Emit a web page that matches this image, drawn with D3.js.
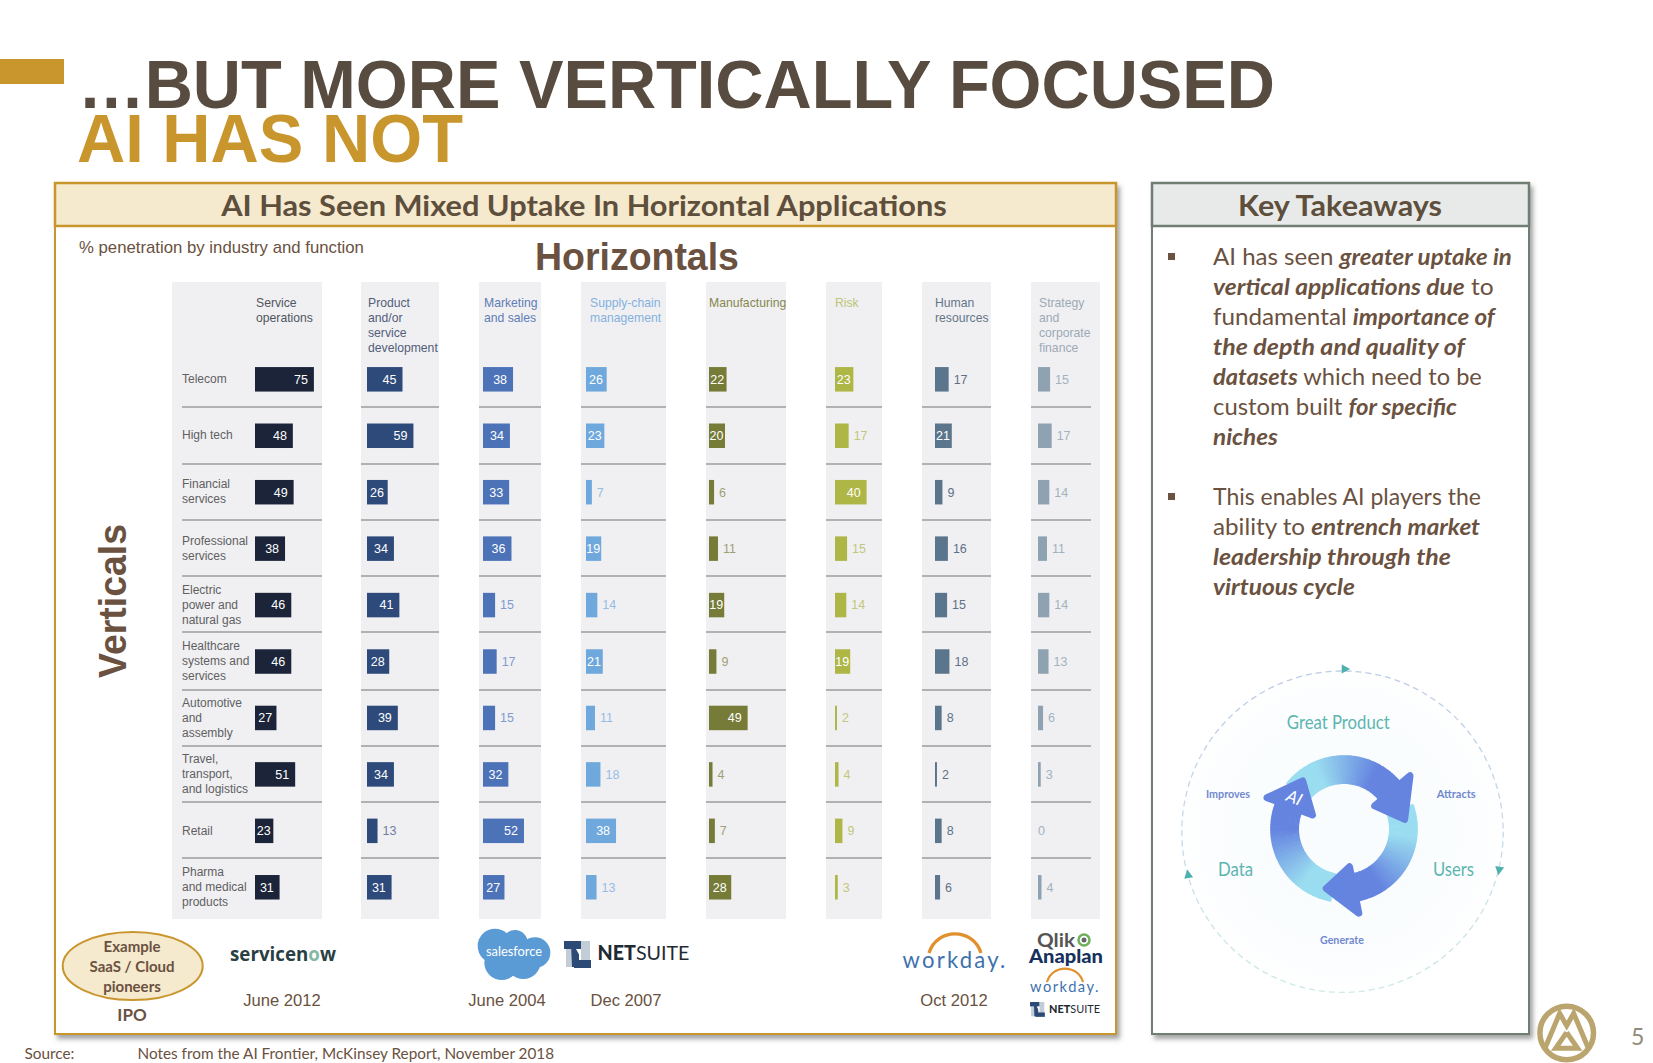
<!DOCTYPE html>
<html><head><meta charset="utf-8">
<style>html,body{margin:0;padding:0;background:#fff;overflow:hidden}svg{display:block}</style>
<script src="https://cdn.jsdelivr.net/npm/d3@7/dist/d3.min.js"></script>
</head><body><svg id="c" width="1653" height="1063" xmlns="http://www.w3.org/2000/svg"></svg>
<script>
// ---- data ----
const industries = [
  ["Telecom"],["High tech"],["Financial","services"],["Professional","services"],
  ["Electric","power and","natural gas"],["Healthcare","systems and","services"],
  ["Automotive","and","assembly"],["Travel,","transport,","and logistics"],["Retail"],
  ["Pharma","and medical","products"]];
const functionNames = [
  ["Service","operations"],["Product","and/or","service","development"],["Marketing","and sales"],
  ["Supply-chain","management"],["Manufacturing"],["Risk"],["Human","resources"],
  ["Strategy","and","corporate","finance"]];
const serviceOperations = [75,48,49,38,46,46,27,51,23,31];
const productDevelopment = [45,59,26,34,41,28,39,34,13,31];
const marketingSales = [38,34,33,36,15,17,15,32,52,27];
const supplyChain = [26,23,7,19,14,21,11,18,38,13];
const manufacturing = [22,20,6,11,19,9,49,4,7,28];
const risk = [23,17,40,15,14,19,2,4,9,3];
const humanResources = [17,21,9,16,15,18,8,2,8,6];
const strategyFinance = [15,17,14,11,14,13,6,3,0,4];
const seriesValues = [serviceOperations,productDevelopment,marketingSales,supplyChain,manufacturing,risk,humanResources,strategyFinance];
const barColors = ["#1B2438","#2D4A7A","#4C72B8","#6FA8DC","#767B38","#AEB645","#5B758C","#8FA2B2"];
const headColors = ["#50565E","#525D7A","#5F7DB6","#84B0E0","#85884F","#BEC474","#647688","#9DAAB6"];
const outColors = ["#555","#6F7F9C","#7F9BD0","#96BDE6","#A09F74","#C2C77C","#5E7186","#A3B2BE"];
const panelLeft = [172,361,479,581,706,826,922,1031];
const panelRight = [322,439,541,666,786,882,991,1100];
const ruleLeft = [182,361,479,581,706,826,922,1031];
const ruleRight = [322,439,541,666,786,882,991,1091];
const barStart = [255,367,483,586,709,835,935,1038];
const headX = [256,368,484,590,709,835,935,1039];
const takeaways = [
 {b:265,w:299,r:[["AI has seen ",0],["greater uptake in",1]]},
 {b:295,w:281,r:[["vertical applications due",1],[" to",0]]},
 {b:325,w:282,r:[["fundamental ",0],["importance of",1]]},
 {b:355,w:252,r:[["the depth and quality of",1]]},
 {b:385,w:269,r:[["datasets",1],[" which need to be",0]]},
 {b:415,w:244,r:[["custom built ",0],["for specific",1]]},
 {b:445,w:65,r:[["niches",1]]},
 {b:505,w:268,r:[["This enables AI players the",0]]},
 {b:535,w:267,r:[["ability to ",0],["entrench market",1]]},
 {b:565,w:238,r:[["leadership through the",1]]},
 {b:595,w:142,r:[["virtuous cycle",1]]}];
const ipoDates = [["June 2012",282],["June 2004",507],["Dec 2007",626],["Oct 2012",954]];

// ---- helpers ----
const GOLD="#C8962D", BROWN="#6A5140", SANS="'Liberation Sans',Arial,sans-serif", LATO="Lato,'Open Sans',sans-serif";
const svg=d3.select("#c");
const defs=svg.append("defs");
const f=defs.append("filter").attr("id","sh").attr("x","-5%").attr("y","-5%").attr("width","112%").attr("height","112%");
f.append("feDropShadow").attr("dx",3).attr("dy",4).attr("stdDeviation",2.5).attr("flood-color","#555").attr("flood-opacity",.55);

function T(x,y,str,o={}){
  const t=svg.append("text").attr("font-family",o.font||SANS).attr("font-size",o.size||12)
    .attr("fill",o.fill||BROWN).attr("font-weight",o.weight||400).attr("font-style",o.italic?"italic":"normal")
    .attr("text-anchor",o.anchor||"start").text(str);
  if(o.spacing) t.attr("letter-spacing",o.spacing);
  let k=1;
  if(o.w){k=o.w/t.node().getComputedTextLength();}
  t.attr("transform",`translate(${x},${y})${o.rot?` rotate(${o.rot})`:""} scale(${k},1)`);
  return t;
}

// ---- slide frame ----
svg.append("rect").attr("x",0).attr("y",59).attr("width",64).attr("height",25).attr("fill",GOLD);
T(78,108,"…BUT MORE VERTICALLY FOCUSED",{size:69,weight:700,fill:"#574C3F",w:1197});
T(77,162,"AI HAS NOT",{size:69,weight:700,fill:GOLD,w:386});

// left box
svg.append("rect").attr("x",55).attr("y",183).attr("width",1061).attr("height",851).attr("fill","#fff").attr("stroke",GOLD).attr("stroke-width",2).attr("filter","url(#sh)");
svg.append("rect").attr("x",55).attr("y",183).attr("width",1061).attr("height",43).attr("fill","#F5E9CE").attr("stroke",GOLD).attr("stroke-width",2.5);
T(584,216,"AI Has Seen Mixed Uptake In Horizontal Applications",{font:LATO,size:29,weight:700,fill:"#5E4E3C",anchor:"middle",w:726});
// right box
svg.append("rect").attr("x",1152).attr("y",183).attr("width",377).attr("height",851).attr("fill","#fff").attr("stroke","#6F7D73").attr("stroke-width",2).attr("filter","url(#sh)");
svg.append("rect").attr("x",1152).attr("y",183).attr("width",377).attr("height",43).attr("fill","#E8EAE9").attr("stroke","#6F7D73").attr("stroke-width",2.5);
T(1340,216,"Key Takeaways",{font:LATO,size:29,weight:700,fill:"#5E4E3C",anchor:"middle",w:204});

T(79,253,"% penetration by industry and function",{size:16,w:285});
T(535,269.5,"Horizontals",{size:38,weight:700,w:204});
T(126,601,"Verticals",{size:38,weight:700,anchor:"middle",rot:-90,w:154});

// ---- panels and bars ----
const yBand=d3.scaleBand().domain(d3.range(industries.length)).range([351.1,915.5]).paddingInner(.566).paddingOuter(.283);
const xLen=d3.scaleLinear().domain([0,75]).range([0,58.5]);
const ruleYs=[407,464,520,576,632,690,746,802,858];

seriesValues.forEach((vals,c)=>{
  svg.append("rect").attr("x",panelLeft[c]).attr("y",282).attr("width",panelRight[c]-panelLeft[c]).attr("height",637).attr("fill","#F0F0F2");
  svg.append("g").selectAll("line").data(ruleYs).join("line")
    .attr("x1",ruleLeft[c]).attr("x2",ruleRight[c]).attr("y1",d=>d).attr("y2",d=>d)
    .attr("stroke","#9C9C9E").attr("stroke-width",1.3);
  functionNames[c].forEach((ln,i)=>T(headX[c],306.7+i*15.2,ln,{size:12.2,fill:headColors[c]}));
  svg.append("g").selectAll("rect").data(vals).join("rect")
    .attr("x",barStart[c]).attr("y",(d,i)=>yBand(i)).attr("width",d=>d>0?xLen(d)+.4:0).attr("height",yBand.bandwidth())
    .attr("fill",barColors[c]);
  vals.forEach((v,i)=>{
    const w=xLen(v)+.4, inside=v>=19, cy=yBand(i)+yBand.bandwidth()/2+4.3;
    if(inside){
      T(barStart[c]+w-Math.min(6,(w-13)/2),cy,String(v),{size:12.5,fill:"#fff",anchor:"end"});
    } else {
      T(barStart[c]+w+(v===0?-0.5:5),cy,String(v),{size:12.5,fill:outColors[c]});
    }
  });
});
industries.forEach((lines,i)=>{
  const c=yBand(i)+yBand.bandwidth()/2;
  lines.forEach((ln,j)=>T(182,c+3.7+(j-(lines.length-1)/2)*15,ln,{size:12,fill:"#606062"}));
});

// ---- ipo row ----
svg.append("ellipse").attr("cx",132.7).attr("cy",966).attr("rx",70).attr("ry",34).attr("fill","#F5E9CE").attr("stroke",GOLD).attr("stroke-width",2);
[["Example",952],["SaaS / Cloud",972],["pioneers",992]].forEach(d=>T(132,d[1],d[0],{font:LATO,size:15,weight:700,anchor:"middle"}));
T(132,1021,"IPO",{font:LATO,size:17,weight:700,anchor:"middle"});
ipoDates.forEach(d=>T(d[1],1006,d[0],{size:16.6,anchor:"middle"}));

// servicenow
const sn=T(230,961,"",{font:"'Open Sans',sans-serif",size:19,weight:700,fill:"#2A3F44"});
sn.append("tspan").text("servicen");sn.append("tspan").attr("fill","#86B8A4").text("o");sn.append("tspan").text("w");
sn.attr("transform",`translate(230,961) scale(${106/sn.node().getComputedTextLength()},1)`);

// salesforce cloud
const zs=(x,y)=>[460+x/3,920+y/3];
[[105,78,52],[165,68,38],[225,98,46],[125,128,52],[190,125,52],[140,95,55]].forEach(c=>{
  const p=zs(c[0],c[1]);
  svg.append("circle").attr("cx",p[0]).attr("cy",p[1]).attr("r",c[2]/3).attr("fill","#5B9BD5");
});
T(514,956,"salesforce",{font:LATO,size:13.5,fill:"#fff",anchor:"middle",w:56});

function netsuiteMark(x,y,s){
  const R=(a,b,w,h,col)=>svg.append("rect").attr("x",x+a*s).attr("y",y+b*s).attr("width",w*s).attr("height",h*s).attr("fill",col);
  R(2,8,10,18,"#C3CDD8");R(17,0,9,20,"#C3CDD8");
  R(0,0,17,8,"#2C4A76");R(10,19,17,8,"#2C4A76");
  svg.append("path").attr("d",`M${x+7*s},${y+2*s}H${x+15*s}V${y+26*s}H${x+8*s}Z`).attr("fill","#2C4A76");
  svg.append("path").attr("d",`M${x+12*s},${y+8*s}L${x+17*s},${y+17*s}V${y+8*s}Z`).attr("fill","#fff");
}
netsuiteMark(564,941,1);
const ns=T(597.5,960,"",{font:LATO,size:20,fill:"#1F2A33"});
ns.append("tspan").attr("font-weight",900).text("NET");ns.append("tspan").text("SUITE");
ns.attr("transform",`translate(597.5,960) scale(${92/ns.node().getComputedTextLength()},1)`);

function workday(cx,y,w,size,ax,top,bot){
  const rx=ax, h=bot-top;
  svg.append("path").attr("d",`M${cx-rx},${bot} C${cx-rx*.7},${top-h*.28} ${cx+rx*.7},${top-h*.28} ${cx+rx},${bot}`)
    .attr("fill","none").attr("stroke","#E0912B").attr("stroke-width",size/7);
  T(cx,y,"workday.",{font:LATO,size:size,fill:"#3E71AD",anchor:"middle",spacing:size/10,w:w});
}
workday(955,968,105,23,26,933,953);
T(1037,947,"Qlik",{font:LATO,size:18,weight:700,fill:"#555",w:38});
svg.append("circle").attr("cx",1084).attr("cy",940).attr("r",5.5).attr("fill","none").attr("stroke","#6FAF5A").attr("stroke-width",2.5);
svg.append("circle").attr("cx",1084).attr("cy",940).attr("r",2.5).attr("fill","#666");
T(1029,963,"Anaplan",{font:LATO,size:19,weight:900,fill:"#17315E",w:74});
workday(1065,992,70,15.5,18,968,982);
netsuiteMark(1030,1002,.55);
const ns2=T(1049,1013,"",{font:LATO,size:11.5,fill:"#1F2A33"});
ns2.append("tspan").attr("font-weight",900).text("NET");ns2.append("tspan").text("SUITE");
ns2.attr("transform",`translate(1049,1013) scale(${51/ns2.node().getComputedTextLength()},1)`);

// footer
T(24.5,1059,"Source:",{font:LATO,size:15,w:50});
T(137.5,1059,"Notes from the AI Frontier, McKinsey Report, November 2018",{font:LATO,size:15,w:417});

// ---- takeaways ----
[253,493].forEach(y=>svg.append("rect").attr("x",1168).attr("y",y).attr("width",7).attr("height",7).attr("fill",BROWN));
takeaways.forEach(l=>{
  const t=svg.append("text").attr("font-family",LATO).attr("font-size",22.5).attr("fill",BROWN);
  t.style("white-space","pre");
  l.r.forEach(r=>{
    const s=t.append("tspan").text(r[0]);
    if(r[1]) s.attr("font-weight",700).attr("font-style","italic");
  });
  t.attr("transform",`translate(1213,${l.b}) scale(${l.w/t.node().getComputedTextLength()},1)`);
});

// ---- virtuous cycle diagram ----
const cx=1342.5, cy=831.7, R=160.7;
const bg=defs.append("radialGradient").attr("id","bg");
bg.append("stop").attr("offset","0%").attr("stop-color","#F8FCFE");
bg.append("stop").attr("offset","80%").attr("stop-color","#FBFDFE");
bg.append("stop").attr("offset","100%").attr("stop-color","#fff");
svg.append("circle").attr("cx",cx).attr("cy",cy).attr("r",R+4).attr("fill","url(#bg)");
const dg=defs.append("linearGradient").attr("id","dash").attr("gradientUnits","userSpaceOnUse").attr("x1",0).attr("x2",0).attr("y1",cy-R).attr("y2",cy+R);
dg.append("stop").attr("offset","0%").attr("stop-color","#BCCBE6");
dg.append("stop").attr("offset","100%").attr("stop-color","#CDE9E8");
svg.append("circle").attr("cx",cx).attr("cy",cy).attr("r",R).attr("fill","none").attr("stroke","url(#dash)").attr("stroke-width",1.3).attr("stroke-dasharray","6 4");
const TEAL="#4FB0B0";
[[1345.7,669,0],[1499,870.7,100],[1188,874,-100]].forEach(d=>{
  svg.append("path").attr("d","M-4,-4.5L4.5,0L-4,4.5Z").attr("fill",TEAL).attr("transform",`translate(${d[0]},${d[1]}) rotate(${d[2]})`);
});
const TXT="#5DB5B0", BLU="#7188CF";
T(1338.3,728.7,"Great Product",{font:LATO,size:18.5,fill:TXT,anchor:"middle",w:103});
T(1218,875.7,"Data",{font:LATO,size:19,fill:TXT,w:35});
T(1433,875.7,"Users",{font:LATO,size:19,fill:TXT,w:41});
T(1206,798,"Improves",{font:LATO,size:11.5,weight:700,fill:BLU,w:44});
T(1436.7,798,"Attracts",{font:LATO,size:11.5,weight:700,fill:BLU,w:39});
T(1320,944.3,"Generate",{font:LATO,size:11.5,weight:700,fill:BLU,w:44});

const rc=[1344,829], rIn=45, rOut=73.8, rad=d=>d*Math.PI/180;
const arrows=[
 {from:-52,to:54,base:50,rI:34.3,rO:89,tip:85,rT:62.7},
 {from:70,to:172,base:169,rI:34,rO:89.7,tip:200.6,rT:63.3},
 {from:190,to:295,base:291,rI:30.3,rO:87.3,tip:323,rT:65.3}];
const mix=d3.interpolateRgb("#9ADDF0","#6584E0");
const arcGen=d3.arc().innerRadius(rIn).outerRadius(rOut);
arrows.forEach(a=>{
  const n=48, span=a.to-a.from;
  d3.range(n).forEach(i=>{
    const s=a.from+span*i/n, e=s+span/n+.6;
    const col=mix(Math.min(1,Math.max(0,(i/n-.25)/.5)));
    svg.append("path").attr("transform",`translate(${rc[0]},${rc[1]})`)
      .attr("d",arcGen({startAngle:rad(s),endAngle:rad(e)})).attr("fill",col);
  });
});
const polar=(ang,r)=>[rc[0]+r*Math.sin(rad(ang)),rc[1]-r*Math.cos(rad(ang))];
arrows.forEach(a=>{
  const raw=[polar(a.base,a.rO),polar(a.tip,a.rT),polar(a.base,a.rI)];
  const gx=d3.mean(raw,p=>p[0]), gy=d3.mean(raw,p=>p[1]);
  const pts=raw.map(p=>{const d=Math.hypot(p[0]-gx,p[1]-gy),k=(d-4.5)/d;return [gx+(p[0]-gx)*k,gy+(p[1]-gy)*k];});
  svg.append("path").attr("d","M"+pts.map(p=>p.join(",")).join("L")+"Z")
    .attr("fill","#6584E0").attr("stroke","#6584E0").attr("stroke-width",7).attr("stroke-linejoin","round");
});
svg.append("text").attr("font-family",LATO).attr("font-style","italic").attr("font-size",17).attr("fill","#fff")
  .attr("text-anchor","middle").attr("transform","translate(1292,803) rotate(22)").text("AI");

// ---- footer logo ----
const lx=x=>1525+x/3, ly=y=>995+y/3;
svg.append("circle").attr("cx",1566.7).attr("cy",1033).attr("r",26.8).attr("fill","#fff").attr("stroke","#BBA56E").attr("stroke-width",5.5);
const logoLine=(pts,sw)=>svg.append("path").attr("d","M"+pts.map(p=>lx(p[0])+","+ly(p[1])).join("L")).attr("fill","none").attr("stroke","#BBA56E").attr("stroke-width",sw).attr("stroke-linejoin","miter");
logoLine([[60,160],[104,55],[125,92],[146,55],[190,160]],5);
logoLine([[125,112],[92,160],[158,160],[125,112]],5);
T(1631,1045,"5",{font:LATO,size:23,fill:"#8F8A7C"});
</script></body></html>
